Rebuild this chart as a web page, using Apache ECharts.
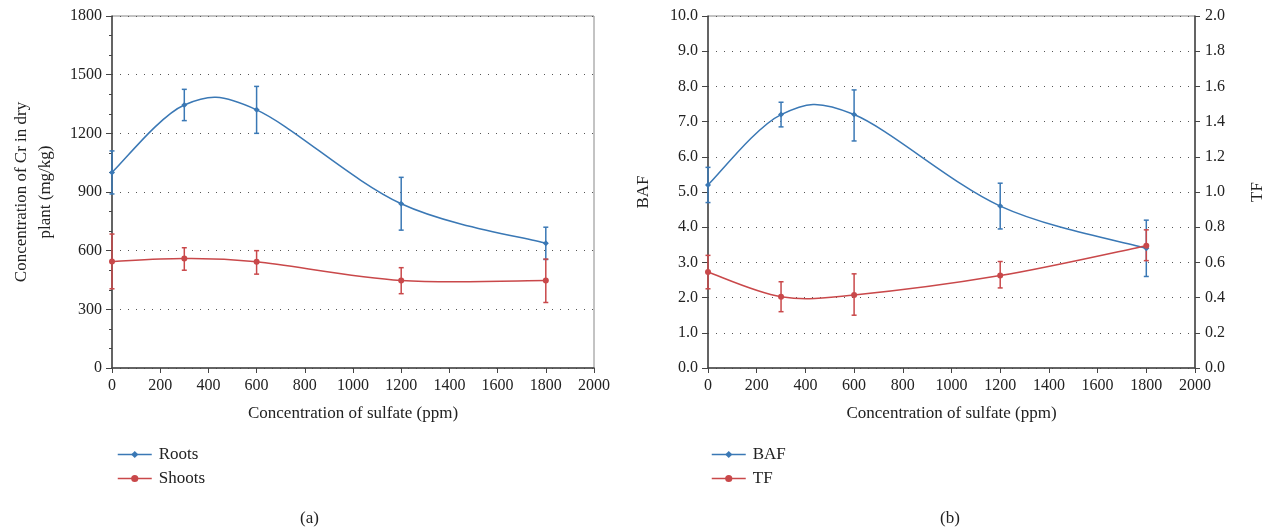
<!DOCTYPE html>
<html>
<head>
<meta charset="utf-8">
<script src="https://cdn.jsdelivr.net/npm/echarts@6/dist/echarts.min.js"></script>
<style>
html,body{margin:0;padding:0;background:#fff;}
#c{width:1268px;height:529px;}
</style>
</head>
<body>
<div id="c"></div>
<script>
const sulfate = [0, 300, 600, 1200, 1800];
const roots = [1000, 1345, 1320, 840, 638];
const rootsLow = [890, 1265, 1200, 705, 555];
const rootsHigh = [1110, 1425, 1440, 975, 720];
const shoots = [545, 560, 543, 447, 447];
const shootsLow = [405, 500, 480, 380, 335];
const shootsHigh = [685, 615, 600, 513, 557];
const baf = [5.2, 7.2, 7.2, 4.6, 3.4];
const bafLow = [4.7, 6.85, 6.45, 3.95, 2.6];
const bafHigh = [5.7, 7.55, 7.9, 5.25, 4.2];
const tf = [0.545, 0.405, 0.415, 0.525, 0.695];
const tfLow = [0.45, 0.32, 0.30, 0.455, 0.61];
const tfHigh = [0.64, 0.49, 0.535, 0.605, 0.785];

const BLUE = '#3a78b5';
const RED = '#c9484a';
const FONT = 'Liberation Serif';
const AX = '#444';

function pts(vals){ return sulfate.map((x,i)=>[x, vals[i]]); }
function errData(lo, hi){ return sulfate.map((x,i)=>[x, lo[i], hi[i]]); }
function errRender(color){
  return function(params, api){
    const x = api.value(0);
    const a = api.coord([x, api.value(1)]);
    const b = api.coord([x, api.value(2)]);
    const w = 2.5;
    const st = {stroke: color, lineWidth: 1.5};
    return {type:'group', children:[
      {type:'line', shape:{x1:a[0], y1:a[1], x2:b[0], y2:b[1]}, style:st},
      {type:'line', shape:{x1:a[0]-w, y1:a[1], x2:a[0]+w, y2:a[1]}, style:st},
      {type:'line', shape:{x1:b[0]-w, y1:b[1], x2:b[0]+w, y2:b[1]}, style:st}
    ]};
  };
}
// Smooth curve segment (Catmull-Rom style Bezier) between data point i and i+1,
// positions taken from the axes via api.coord.
function curveRender(vals, color){
  return function(params, api){
    const i = params.dataIndex;
    const n = sulfate.length;
    if (i >= n - 1) return null;
    const P = k => { const j = Math.max(0, Math.min(n-1, k)); return api.coord([sulfate[j], vals[j]]); };
    const p0 = P(i-1), p1 = P(i), p2 = P(i+1), p3 = P(i+2);
    const c1 = [p1[0] + (p2[0]-p0[0])/6, p1[1] + (p2[1]-p0[1])/6];
    const c2 = [p2[0] - (p3[0]-p1[0])/6, p2[1] - (p3[1]-p1[1])/6];
    return {type:'bezierCurve', shape:{x1:p1[0], y1:p1[1], x2:p2[0], y2:p2[1],
      cpx1:c1[0], cpy1:c1[1], cpx2:c2[0], cpy2:c2[1]},
      style:{stroke:color, lineWidth:1.5, fill:null}};
  };
}
const gridLine = {show:true, lineStyle:{color:'#555', type:[1,7], width:1}};
const tickLabel = {fontFamily:FONT, fontSize:16, color:'#222'};
function xAx(gi){
  return {type:'value', gridIndex:gi, min:0, max:2000, interval:200,
    name:'Concentration of sulfate (ppm)', nameLocation:'middle', nameGap:37,
    nameTextStyle:{fontFamily:FONT, fontSize:17, color:'#222'},
    axisLine:{show:true, onZero:false, lineStyle:{color:AX, width:1.5}},
    axisTick:{show:true, length:5, lineStyle:{color:AX}},
    axisLabel:Object.assign({margin:10, formatter:v=>String(v)}, tickLabel),
    splitLine:{show:false}};
}
function lineSeries(name, vals, color, symbol, xi, yi){
  return {type:'line', name:name, data:pts(vals), xAxisIndex:xi, yAxisIndex:yi,
    symbol:symbol, symbolSize: 6,
    itemStyle:{color:color}, lineStyle:{color:color, width:1.5, opacity:0}, z:4};
}
function curveSeries(vals, color, xi, yi){
  return {type:'custom', data:pts(vals), xAxisIndex:xi, yAxisIndex:yi,
    renderItem:curveRender(vals, color), encode:{x:0, y:1}, z:3, silent:true};
}
function errSeries(lo, hi, color, xi, yi){
  return {type:'custom', data:errData(lo,hi), xAxisIndex:xi, yAxisIndex:yi,
    renderItem:errRender(color), encode:{x:0, y:[1,2]}, z:2, silent:true};
}
const legendCommon = {orient:'vertical', top:441, itemWidth:34, itemHeight:9, itemGap:7,
  lineStyle:{width:1.5, opacity:1},
  textStyle:{fontFamily:FONT, fontSize:17, color:'#222', padding:[0,0,0,2]}};

const chart = echarts.init(document.getElementById('c'));
chart.setOption({
  animation:false,
  backgroundColor:'#fff',
  grid:[
    {left:112, right:674, top:16, bottom:161, show:true, borderColor:'#888', borderWidth:1},
    {left:708, right:73, top:16, bottom:161, show:true, borderColor:'#888', borderWidth:1}
  ],
  xAxis:[xAx(0), xAx(1)],
  yAxis:[
    {type:'value', gridIndex:0, min:0, max:1800, interval:300,
      name:'Concentration of Cr in dry\nplant (mg/kg)', nameLocation:'middle', nameGap:54, nameRotate:90,
      nameTextStyle:{fontFamily:FONT, fontSize:17, color:'#222', lineHeight:24},
      axisLine:{show:true, lineStyle:{color:AX, width:1.5}},
      axisTick:{show:true, length:6, lineStyle:{color:AX}},
      minorTick:{show:true, splitNumber:3, length:3, lineStyle:{color:AX}},
      axisLabel:Object.assign({margin:10, formatter:v=>String(v)}, tickLabel),
      splitLine:gridLine},
    {type:'value', gridIndex:1, min:0, max:10, interval:1,
      name:'BAF', nameLocation:'middle', nameGap:56, nameRotate:90,
      nameTextStyle:{fontFamily:FONT, fontSize:17, color:'#222'},
      axisLine:{show:true, lineStyle:{color:AX, width:1.5}},
      axisTick:{show:true, length:6, lineStyle:{color:AX}},
      axisLabel:Object.assign({margin:10, formatter:v=>v.toFixed(1)}, tickLabel),
      splitLine:gridLine},
    {type:'value', gridIndex:1, position:'right', min:0, max:2, interval:0.2,
      name:'TF', nameLocation:'middle', nameGap:54, nameRotate:90,
      nameTextStyle:{fontFamily:FONT, fontSize:17, color:'#222'},
      axisLine:{show:true, lineStyle:{color:AX, width:1.5}},
      axisTick:{show:true, length:5, lineStyle:{color:AX}},
      axisLabel:Object.assign({margin:10, formatter:v=>v.toFixed(1)}, tickLabel),
      splitLine:{show:false}}
  ],
  legend:[
    Object.assign({data:['Roots','Shoots'], left:112}, legendCommon),
    Object.assign({data:['BAF','TF'], left:706}, legendCommon)
  ],
  graphic:[
    {type:'text', left:300, top:510, style:{text:'(a)', font:'17px "Liberation Serif"', fill:'#222'}},
    {type:'text', left:940, top:510, style:{text:'(b)', font:'17px "Liberation Serif"', fill:'#222'}}
  ],
  series:[
    errSeries(rootsLow, rootsHigh, BLUE, 0, 0),
    errSeries(shootsLow, shootsHigh, RED, 0, 0),
    curveSeries(roots, BLUE, 0, 0),
    curveSeries(shoots, RED, 0, 0),
    lineSeries('Roots', roots, BLUE, 'diamond', 0, 0),
    lineSeries('Shoots', shoots, RED, 'circle', 0, 0),
    errSeries(bafLow, bafHigh, BLUE, 1, 1),
    errSeries(tfLow, tfHigh, RED, 1, 2),
    curveSeries(baf, BLUE, 1, 1),
    curveSeries(tf, RED, 1, 2),
    lineSeries('BAF', baf, BLUE, 'diamond', 1, 1),
    lineSeries('TF', tf, RED, 'circle', 1, 2)
  ]
});
</script>
</body>
</html>
